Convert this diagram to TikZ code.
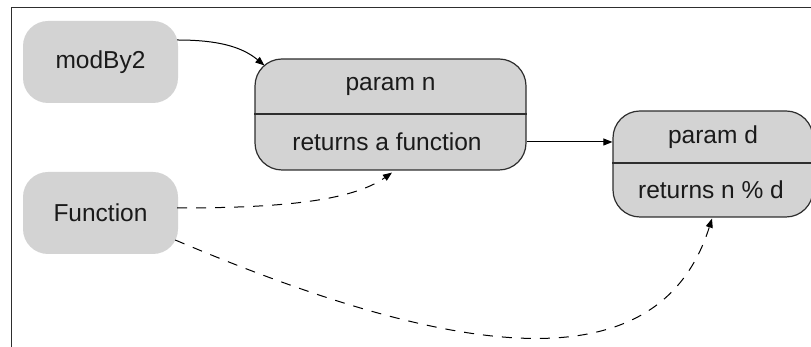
\documentclass[tikz,border=0pt]{standalone}
\usepackage{fontspec}
\setmainfont{Liberation Sans}
\usetikzlibrary{arrows.meta,calc}
\definecolor{boxgray}{HTML}{D3D3D3}
\definecolor{edgegray}{HTML}{2E2E2E}
\definecolor{txt}{HTML}{1A1A1A}
\begin{document}
\begin{tikzpicture}[x=1pt,y=1pt,
  lbl/.style={font=\fontsize{24.5}{28}\selectfont, text=txt, inner sep=0pt},
  plainbox/.style={fill=boxgray, rounded corners=25pt, minimum width=155pt, minimum height=82pt, inner sep=0pt, lbl},
  splitbox/.style={fill=boxgray, draw=edgegray, line width=1.2pt, rounded corners=27pt, inner sep=0pt},
  conn/.style={draw=black, line width=1pt, -{Triangle[length=9pt,width=7pt]}},
  dconn/.style={conn, dash pattern=on 10pt off 9pt}
]
\useasboundingbox (0,0) rectangle (811,347);
\begin{scope}
\clip (0,0) rectangle (811,347);
\draw[edgegray, line width=1pt] (11,339) rectangle (840,-20);
% plain boxes
\node[plainbox] (mb) at (100.5,285) {modBy2};
\node[plainbox] (fn) at (100.5,134) {Function};
% param n box
\node[splitbox, minimum width=271pt, minimum height=111pt] (pn) at (390.5,232.5) {};
\draw[edgegray, line width=1.2pt] ($(pn.west)+(0,0.5)$) -- ($(pn.east)+(0,0.5)$);
\node[lbl] (pnt) at (390.5,260.5) {param n};
\node[lbl] (pnb) at (387,205) {returns a function};
% param d box
\node[splitbox, minimum width=200pt, minimum height=106pt] (pd) at (713,183) {};
\draw[edgegray, line width=1.2pt] ($(pd.west)+(0,1)$) -- ($(pd.east)+(0,1)$);
\node[lbl] (pdt) at (713,210) {param d};
\node[lbl] (pdb) at (711,157) {returns n \% d};
\end{scope}
% connectors
\coordinate (mbs) at ($(mb.east)+(-1,22)$);
\coordinate (pne) at ($(pn.north west)+(10,-7)$);
\draw[conn] (mbs) .. controls +(40,0) and +(-23,19) .. (pne);
\draw[conn] (pn.east |- pnb) -- (pd.west |- pnb);
\coordinate (fs1) at ($(fn.east)+(-1,5)$);
\coordinate (pnu) at ($(pn.south)+(1.5,-2)$);
\draw[dconn] (fs1) .. controls +(100,0) and +(-41,-29) .. (pnu);
\coordinate (fs2) at ($(fn.east)+(-3,-27)$);
\coordinate (pdu) at ($(pd.south)+(-1,-1)$);
\draw[dconn] (fs2) .. controls +(276,-117) and +(-54,-171) .. (pdu);
\end{tikzpicture}
\end{document}
